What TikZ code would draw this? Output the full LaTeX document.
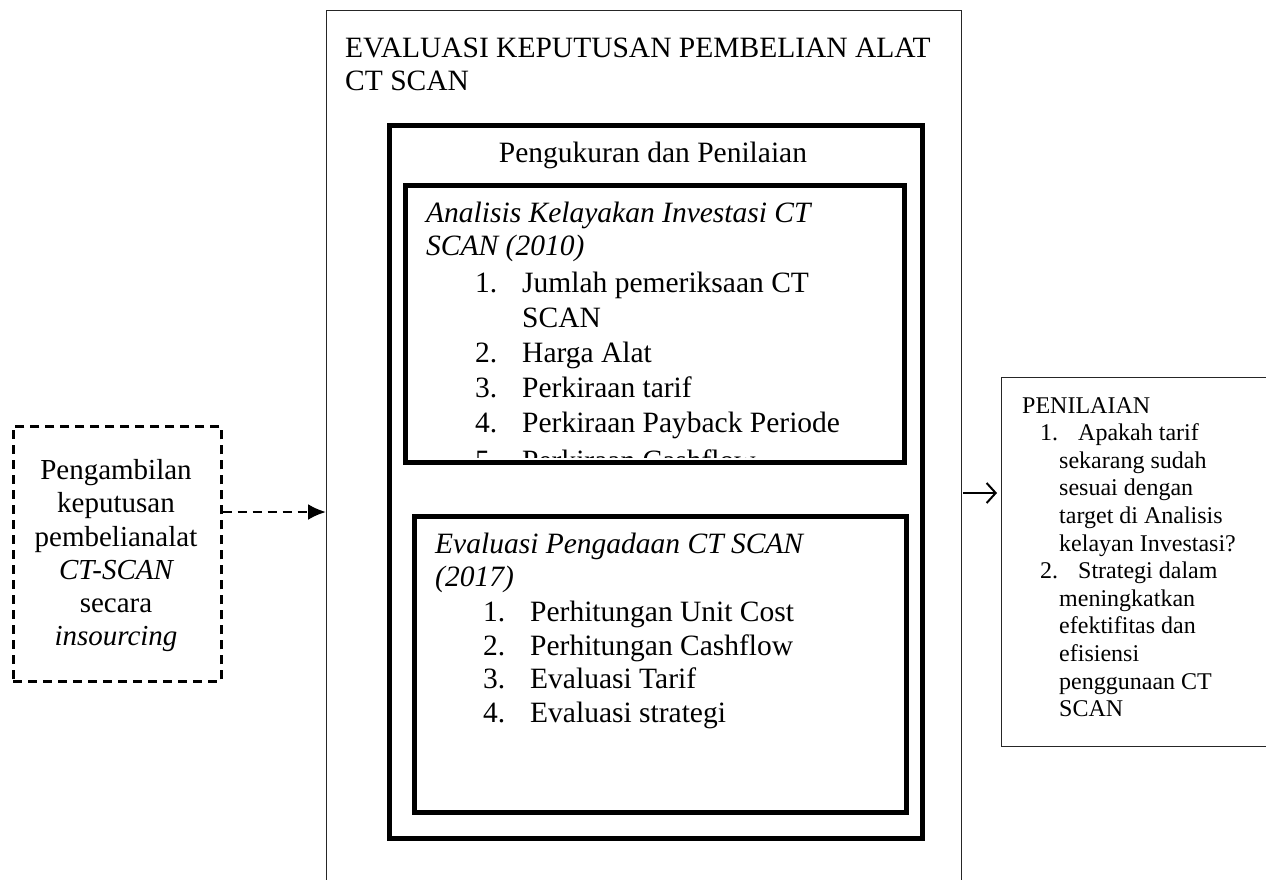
\documentclass[tikz,border=0pt]{standalone}
\usepackage{fontspec}
\setmainfont{Liberation Serif}
\usetikzlibrary{arrows.meta}
\begin{document}
\begin{tikzpicture}[x=1pt,y=-1pt,
  big/.style={font=\fontsize{29.5}{33}\selectfont, inner sep=0pt, anchor=base west},
  bigc/.style={font=\fontsize{29}{33}\selectfont, inner sep=0pt, anchor=base},
  small/.style={font=\fontsize{24}{27.5}\selectfont, inner sep=0pt, anchor=base west},
  thinbox/.style={draw=black!85, line width=1.4pt, anchor=north west, inner sep=0pt},
  thickbox/.style={draw=black, line width=5pt, anchor=north west, inner sep=0pt},
  dashbox/.style={draw=black, line width=2.6pt, dash pattern=on 9pt off 6pt, anchor=north west, inner sep=0pt},
  dasharrow/.style={draw=black, line width=2.6pt, dash pattern=on 9pt off 6pt, -{Latex[length=18pt,width=16pt]}},
  plainarrow/.style={draw=black, line width=2pt, -{Straight Barb[length=9pt,width=20pt,line width=2pt]}}
]
\useasboundingbox (0,0) rectangle (1266,879);
\fill[white] (0,0) rectangle (1266,879);

% boxes
\node[thinbox, minimum width=635pt, minimum height=900pt] (outer) at (326,10) {};
\node[thickbox, minimum width=533pt, minimum height=713pt] (peng) at (387,123) {};
\node[thinbox, minimum width=280pt, minimum height=369pt] (rbox) at (1001,377) {};
\node[dashbox, minimum width=208pt, minimum height=255pt] (dbox) at (12,425) {};

% title
\node[big] (tt1) at (345,57) {EVALUASI KEPUTUSAN PEMBELIAN ALAT};
\node[big] (tt2) at (345,90) {CT SCAN};
\node[big, anchor=base] (pt) at (653,162) {Pengukuran dan Penilaian};

% Analisis box content
\begin{scope}
\clip (405.5,185.5) rectangle (899.5,457.5);
\node[big] (a5n) at (475,470) {5.};
\node[big] (a5t) at (522,470) {Perkiraan Cashflow};
\end{scope}
\node[thickbox, minimum width=499pt, minimum height=277pt] (anal) at (403,183) {};
\node[big] (at1) at (426,222) {\itshape Analisis Kelayakan Investasi CT};
\node[big] (at2) at (426,255) {\itshape SCAN (2010)};
\node[big] (a1n) at (475,292) {1.};
\node[big] (a1t) at (522,292) {Jumlah pemeriksaan CT};
\node[big] (a1u) at (522,327) {SCAN};
\node[big] (a2n) at (475,362) {2.};
\node[big] (a2t) at (522,362) {Harga Alat};
\node[big] (a3n) at (475,397) {3.};
\node[big] (a3t) at (522,397) {Perkiraan tarif};
\node[big] (a4n) at (475,432) {4.};
\node[big] (a4t) at (522,432) {Perkiraan Payback Periode};

% Evaluasi box
\node[thickbox, minimum width=492pt, minimum height=296pt] (eval) at (412,514) {};
\node[big] (et1) at (435,553) {\itshape Evaluasi Pengadaan CT SCAN};
\node[big] (et2) at (435,586) {\itshape (2017)};
\node[big] (e1n) at (483,621) {1.};
\node[big] (e1t) at (530,621) {Perhitungan Unit Cost};
\node[big] (e2n) at (483,655) {2.};
\node[big] (e2t) at (530,655) {Perhitungan Cashflow};
\node[big] (e3n) at (483,688) {3.};
\node[big] (e3t) at (530,688) {Evaluasi Tarif};
\node[big] (e4n) at (483,722) {4.};
\node[big] (e4t) at (530,722) {Evaluasi strategi};

% dashed box text
\node[bigc] (d1) at (116,479) {Pengambilan};
\node[bigc] (d2) at (116,512) {keputusan};
\node[bigc] (d3) at (116,546) {pembelianalat};
\node[bigc] (d4) at (116,579) {\itshape CT-SCAN};
\node[bigc] (d5) at (116,612) {secara};
\node[bigc] (d6) at (116,645) {\itshape insourcing};

% right box text
\node[small] (r0) at (1022,413) {PENILAIAN};
\node[small] (r1n) at (1040,440.6) {1.};
\node[small] (r1t) at (1078,440.6) {Apakah tarif};
\node[small] (r2) at (1059,468.2) {sekarang sudah};
\node[small] (r3) at (1059,495.8) {sesuai dengan};
\node[small] (r4) at (1059,523.4) {target di Analisis};
\node[small] (r5) at (1059,551) {kelayan Investasi?};
\node[small] (r6n) at (1040,578.6) {2.};
\node[small] (r6t) at (1078,578.6) {Strategi dalam};
\node[small] (r7) at (1059,606.2) {meningkatkan};
\node[small] (r8) at (1059,633.8) {efektifitas dan};
\node[small] (r9) at (1059,661.4) {efisiensi};
\node[small] (r10) at (1059,689) {penggunaan CT};
\node[small] (r11) at (1059,716.6) {SCAN};

% connectors
\coordinate (ya) at (0,512);
\draw[dasharrow] (dbox.east |- ya) -- (outer.west |- ya);
\coordinate (yb) at (0,493);
\draw[plainarrow] ([xshift=1pt]outer.east |- yb) -- ([xshift=-4pt]rbox.west |- yb);
\end{tikzpicture}
\end{document}
